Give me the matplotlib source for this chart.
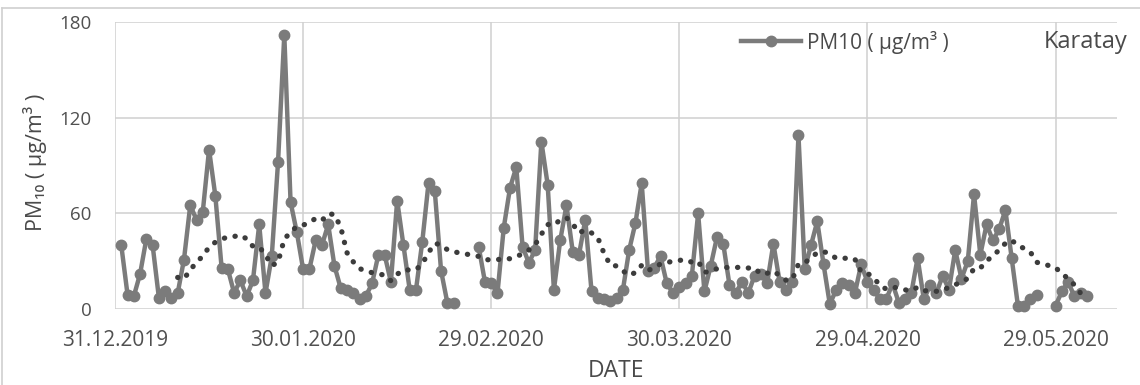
import numpy as np
import pandas as pd
import matplotlib.pyplot as plt
import matplotlib.dates as mdates
from matplotlib.lines import Line2D

plt.rcParams['font.family'] = ['Open Sans', 'DejaVu Sans']

# daily PM10, Karatay station (NaN = no measurement)
jan = [40, 9, 8, 22, 44, 40, 7, 11, 7, 10, 31, 65, 56, 61, 100, 71, 26, 25, 10, 18,
       8, 18, 53, 10, 33, 92, 172, 67, 48, 25, 25]
feb = [43, 40, 53, 27, 13, 12, 10, 6, 8, 16, 34, 34, 17, 68, 40, 12, 12, 42, 79, 74,
       24, 4, 4, np.nan, np.nan, np.nan, 39, 17, 16]
mar = [10, 51, 76, 89, 39, 29, 37, 105, 78, 12, 43, 65, 36, 34, 56, 11, 7, 6, 5, 7,
       12, 37, 54, 79, 24, 26, 33, 16, 10, 14, 16]
apr = [21, 60, 11, 27, 45, 41, 15, 10, 17, 10, 21, 22, 16, 41, 17, 12, 17, 109, 25, 40,
       55, 28, 3, 12, 16, 15, 10, 28, 17, 12]
may = [6, 6, 16, 4, 6, 10, 32, 6, 15, 10, 21, 12, 37, 19, 30, 72, 34, 53, 43, 50,
       62, 32, 2, 2, 6, 9, np.nan, np.nan, 2, 11, 17]
jun = [8, 10, 8]

pm10 = jan + feb + mar + apr + may + jun
dates = pd.date_range("2020-01-01", periods=len(pm10), freq="D")
series = pd.Series(pm10, index=dates, dtype=float)

# 10-day moving average over the days that have data
trend = series.dropna().rolling(10).mean()

tick_dates = pd.to_datetime(["2019-12-31", "2020-01-30", "2020-02-29",
                             "2020-03-30", "2020-04-29", "2020-05-29"])

W, H = 1140, 385
fig = plt.figure(figsize=(W / 100, H / 100), dpi=100)
ax = fig.add_axes([115 / W, 76 / H, (1117 - 115) / W, 287 / H])

line_col = '#7b7b7b'
ax.plot(series.index, series.values, color=line_col, lw=3.2, marker='o', ms=7.5,
        mec=line_col, mfc=line_col, clip_on=False, zorder=3, label='PM10 ( µg/m³ )')
ax.plot(trend.index, trend.values, color='#3c3c3c', lw=3.8, linestyle=(0, (0.05, 2.0)),
        dash_capstyle='round', zorder=4)

start = pd.Timestamp("2019-12-31")
ax.set_xlim(start, start + pd.Timedelta(days=159.8))
ax.set_ylim(0, 180)
ax.set_yticks([0, 60, 120, 180])
ax.set_xticks(tick_dates)
ax.xaxis.set_major_formatter(mdates.DateFormatter('%d.%m.%Y'))

for s in ax.spines.values():
    s.set_visible(False)
ax.grid(True, color='#d0d0d0', lw=1.1)
ax.set_axisbelow(True)
ax.tick_params(axis='both', length=0, colors='#505050')
ax.tick_params(axis='x', labelsize=15, pad=15)
ax.tick_params(axis='y', labelsize=13.5, pad=17)

ax.set_xlabel('DATE', fontsize=16.5, color='#4a4a4a', labelpad=6)
fig.text(35 / W, 1 - 162 / H, 'PM₁₀ ( µg/m³ )', rotation=90, fontsize=15.5,
         color='#4a4a4a', ha='center', va='center')

fig.legend(loc='center left', bbox_to_anchor=(722 / W, 1 - 42 / H), frameon=False,
           fontsize=15, handlelength=2.9, handletextpad=0.3, labelcolor='#4a4a4a')
fig.text(1127 / W, 1 - 42 / H, 'Karatay', fontsize=17, color='#4a4a4a',
         ha='right', va='center')

# chart border (top and left edges)
fig.add_artist(Line2D([2 / W, 1], [1 - 8 / H, 1 - 8 / H], color='#d0d0d0', lw=1.2))
fig.add_artist(Line2D([2 / W, 2 / W], [0, 1 - 8 / H], color='#d0d0d0', lw=1.2))

fig.savefig('out.png', dpi=100)
